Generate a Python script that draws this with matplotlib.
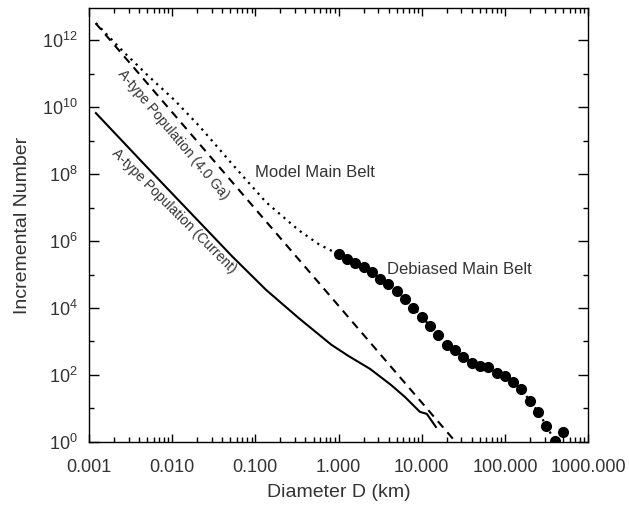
import matplotlib
matplotlib.use("Agg")
import matplotlib.pyplot as plt
from matplotlib.ticker import FixedLocator, FuncFormatter, LogLocator, NullFormatter
import numpy as np

plt.rcParams['font.family'] = ['Liberation Sans', 'DejaVu Sans']

# A-type population, 4.0 Ga (power law, dashed)
atype_old_d = [0.0012, 24.0]
atype_old_n = [3.2e12, 1.2]

# A-type population, current (solid)
atype_now_d = [0.00121, 0.00536, 0.0212, 0.0525, 0.134, 0.332, 0.822, 1.31,
               2.40, 4.29, 6.30, 9.51, 11.5, 14.8]
atype_now_n = [6.6e9, 1.32e8, 3.7e6, 3.5e5, 3.5e4, 5.0e3, 794, 372,
               151, 50, 21.9, 7.9, 6.9, 2.8]

# model main belt, small-D part (dotted); continues through the debiased points
model_d = [0.00121, 0.00269, 0.0053, 0.01064, 0.0212, 0.0525, 0.134, 0.332, 0.575]
model_n = [3.2e12, 4.1e11, 8.0e10, 1.62e10, 2.7e9, 2.0e8, 1.45e7, 2.1e6, 8.1e5]

# debiased main belt (filled circles)
belt_d = [1.0, 1.26, 1.58, 2.0, 2.51, 3.16, 3.98, 5.01, 6.31, 7.94,
          10.0, 12.6, 15.8, 20.0, 25.1, 31.6, 39.8, 50.1, 63.1, 79.4,
          100, 126, 158, 200, 251, 316, 398, 501]
belt_n = [3.98e5, 3.0e5, 2.24e5, 1.62e5, 1.15e5, 7.4e4, 5.2e4, 3.2e4, 1.82e4, 1.02e4,
          5.5e3, 2.9e3, 1.55e3, 813, 562, 355, 224, 191, 170, 115,
          93, 63, 37, 16.6, 7.9, 3.0, 1.07, 2.0]

xticks = [0.001, 0.01, 0.1, 1, 10, 100, 1000]
yticks = [1e0, 1e2, 1e4, 1e6, 1e8, 1e10, 1e12]

fig = plt.figure(figsize=(6.29, 5.08), dpi=100)
ax = fig.add_axes([0.1415, 0.130, 0.7935, 0.854])

txt = '#333333'

ax.plot(atype_old_d, atype_old_n, color='black', lw=1.5, linestyle=(0, (4, 3)))
ax.plot(atype_now_d, atype_now_n, color='black', lw=1.5)
ax.plot(model_d + belt_d[:-1], model_n + belt_n[:-1], color='black', lw=1.6,
        linestyle=(0, (1, 2.2)))
ax.plot(belt_d, belt_n, 'o', color='black', ms=7, ls='none')

ax.set_xscale('log')
ax.set_yscale('log')
ax.set_xlim(0.001, 1000)
ax.set_ylim(1, 9e12)

ax.xaxis.set_major_locator(FixedLocator(xticks))
ax.xaxis.set_major_formatter(FuncFormatter(lambda v, p: f"{v:.3f}"))
ax.xaxis.set_minor_locator(LogLocator(base=10, subs=np.arange(2, 10), numticks=20))
ax.xaxis.set_minor_formatter(NullFormatter())

ax.yaxis.set_major_locator(FixedLocator(yticks))
ax.yaxis.set_major_formatter(FuncFormatter(
    lambda v, p: r'$\mathregular{10^{%d}}$' % round(np.log10(v))))
ax.yaxis.set_minor_locator(FixedLocator([1e1, 1e3, 1e5, 1e7, 1e9, 1e11]))
ax.yaxis.set_minor_formatter(NullFormatter())

ax.tick_params(which='both', direction='in', top=True, right=True,
               width=1.0, colors='black', labelcolor=txt, labelsize=13)
ax.tick_params(axis='x', which='major', length=6, pad=12)
ax.tick_params(axis='x', which='minor', length=3.5)
ax.tick_params(axis='y', which='major', length=7.5, pad=8)
ax.tick_params(axis='y', which='minor', length=3.5)
for s in ax.spines.values():
    s.set_linewidth(1.0)

ax.set_xlabel('Diameter D (km)', fontsize=14, color=txt, labelpad=6)
ax.set_ylabel('Incremental Number', fontsize=14, color=txt, labelpad=8)

ax.text(0.1, 1.15e8, 'Model Main Belt', fontsize=12, color=txt, va='center', ha='left')
ax.text(3.84, 1.46e5, 'Debiased Main Belt', fontsize=12, color=txt, va='center', ha='left')
ax.text(0.0104, 1.46e9, 'A-type Population (4.0 Ga)', fontsize=10, color=txt,
        rotation=-50, rotation_mode='anchor', va='center', ha='center')
ax.text(0.0104, 7.9e6, 'A-type Population (Current)', fontsize=10, color=txt,
        rotation=-45, rotation_mode='anchor', va='center', ha='center')

fig.savefig('out.png', dpi=100)
